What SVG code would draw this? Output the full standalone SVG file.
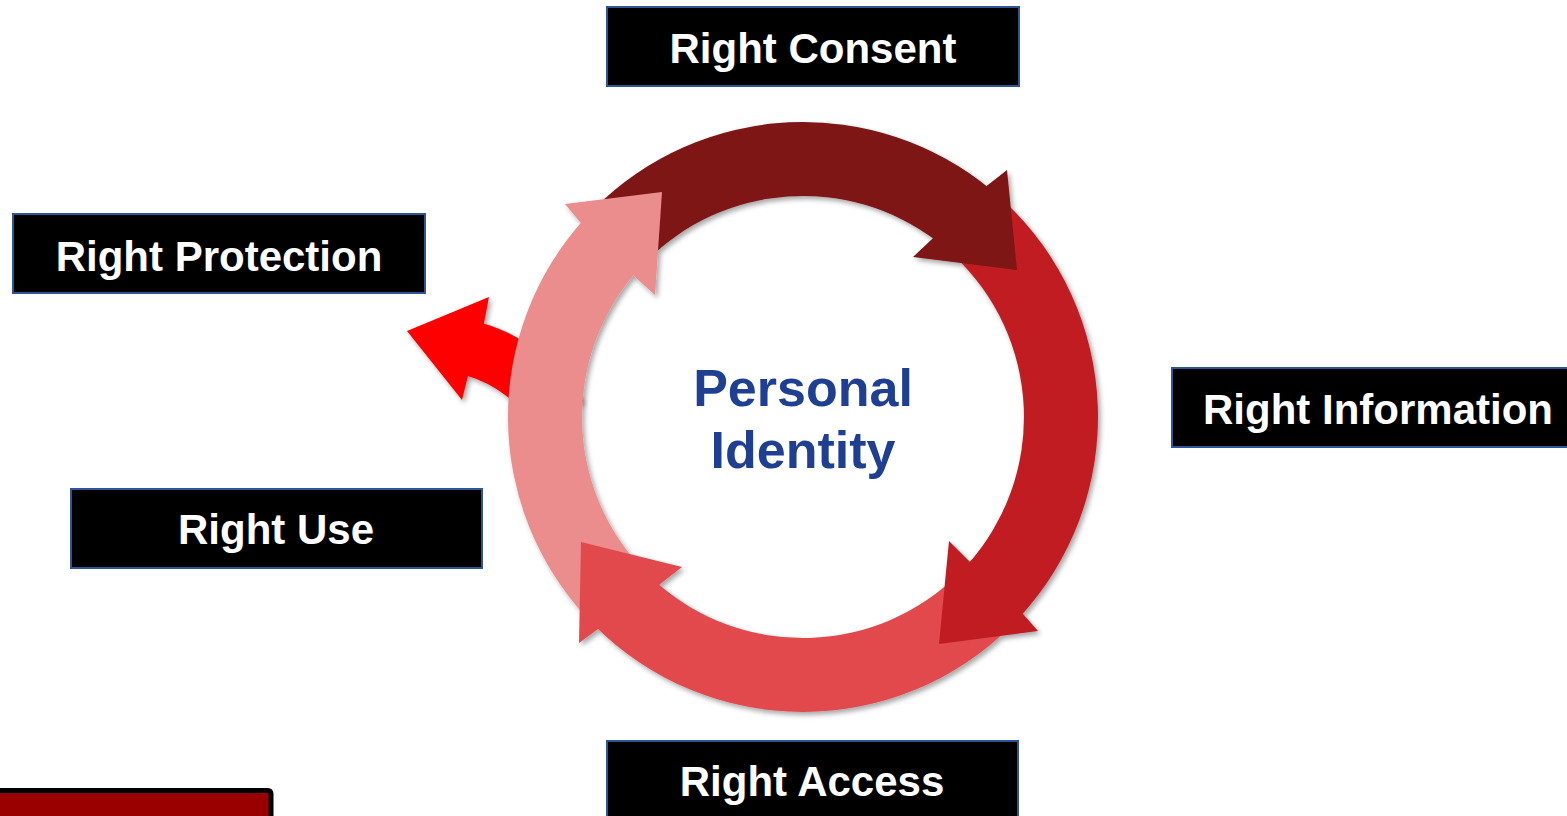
<svg xmlns="http://www.w3.org/2000/svg" width="1567" height="816" viewBox="0 0 1567 816">
  <defs>
    <filter id="sh" x="-20%" y="-20%" width="140%" height="140%">
      <feDropShadow dx="2.5" dy="3" stdDeviation="2.5" flood-color="#000" flood-opacity="0.35"/>
    </filter>
  </defs>
  <style>
    .box { fill:#000; stroke:#2F5597; stroke-width:2; }
    .lbl { font-family:"Liberation Sans", Arial, sans-serif; font-weight:bold; font-size:42px; fill:#fff; text-anchor:middle; }
    .title { font-family:"Liberation Sans", Arial, sans-serif; font-weight:bold; font-size:52px; fill:#1F3F93; text-anchor:middle; }
    .shadowed { filter:url(#sh); }
    .a1 { fill:#7E1416; }
    .a2 { fill:#C01D22; }
    .a3 { fill:#E24A4E; }
    .a4 { fill:#EB8C8D; }
    .ap { fill:#FF0000; }
  </style>
  <rect width="1567" height="816" fill="#fff"/>

  <g id="connectors">
    <g id="arrow-protection" class="shadowed">
      <path class="ap" d="M481.2,322.8 A175,175 0 0 1 583.0,400.9 L535.9,429.2 A120,120 0 0 0 466.1,375.6 Z"/>
      <path class="ap" d="M484,323 L489,297 L407,331 L462,400 L468,376 Z"/>
    </g>
    <g id="cycle" class="shadowed">
      <path id="arrow1-body" class="a1" d="M594.4,208.4 A295,295 0 0 1 990.6,189.4 L936.0,240.5 A221,221 0 0 0 646.7,260.7 Z"/>
      <path id="arrow2-body" class="a2" d="M1004.2,201.2 A295,295 0 0 1 1019.4,617.4 L967.2,564.9 A221,221 0 0 0 953.7,255.4 Z"/>
      <path id="arrow3-body" class="a3" d="M1011.6,625.6 A295,295 0 0 1 594.4,625.6 L656.3,582.3 A221,221 0 0 0 959.3,573.3 Z"/>
      <path id="arrow4-body" class="a4" d="M587.2,618.2 A295,295 0 0 1 584.5,218.8 L635.7,272.6 A221,221 0 0 0 641.4,567.7 Z"/>
      <path id="arrow1-head" class="a1" d="M986.6,186.1 L1007,170 L1017,270 L913,257 L932.9,238.2 Z"/>
      <path id="arrow2-head" class="a2" d="M1023,614 L1038,631 L939,644 L949,541 L970,562 Z"/>
      <path id="arrow3-head" class="a3" d="M598,629 L579,643 L581,542 L682,567 L659,585 Z"/>
      <path id="arrow4-head" class="a4" d="M580,222 L565,204 L662,192 L655,295 L634,276 Z"/>
    </g>
  </g>

  <g id="center">
    <text class="title" x="803" y="406">Personal</text>
    <text class="title" x="803" y="468">Identity</text>
  </g>

  <g id="right-consent">
    <rect class="box" x="607" y="7" width="412" height="79"/>
    <text class="lbl" x="813" y="63">Right Consent</text>
  </g>
  <g id="right-protection">
    <rect class="box" x="13" y="214" width="412" height="79"/>
    <text class="lbl" x="219" y="271">Right Protection</text>
  </g>
  <g id="right-information">
    <rect class="box" x="1172" y="368" width="412" height="79"/>
    <text class="lbl" x="1378" y="424">Right Information</text>
  </g>
  <g id="right-use">
    <rect class="box" x="71" y="489" width="411" height="79"/>
    <text class="lbl" x="276" y="544">Right Use</text>
  </g>
  <g id="right-access">
    <rect class="box" x="607" y="741" width="411" height="79"/>
    <text class="lbl" x="812" y="796">Right Access</text>
  </g>
  <g id="bottom-box">
    <rect x="-5" y="790.5" width="276" height="60" rx="3" fill="#9B0000" stroke="#000" stroke-width="5"/>
  </g>
</svg>
